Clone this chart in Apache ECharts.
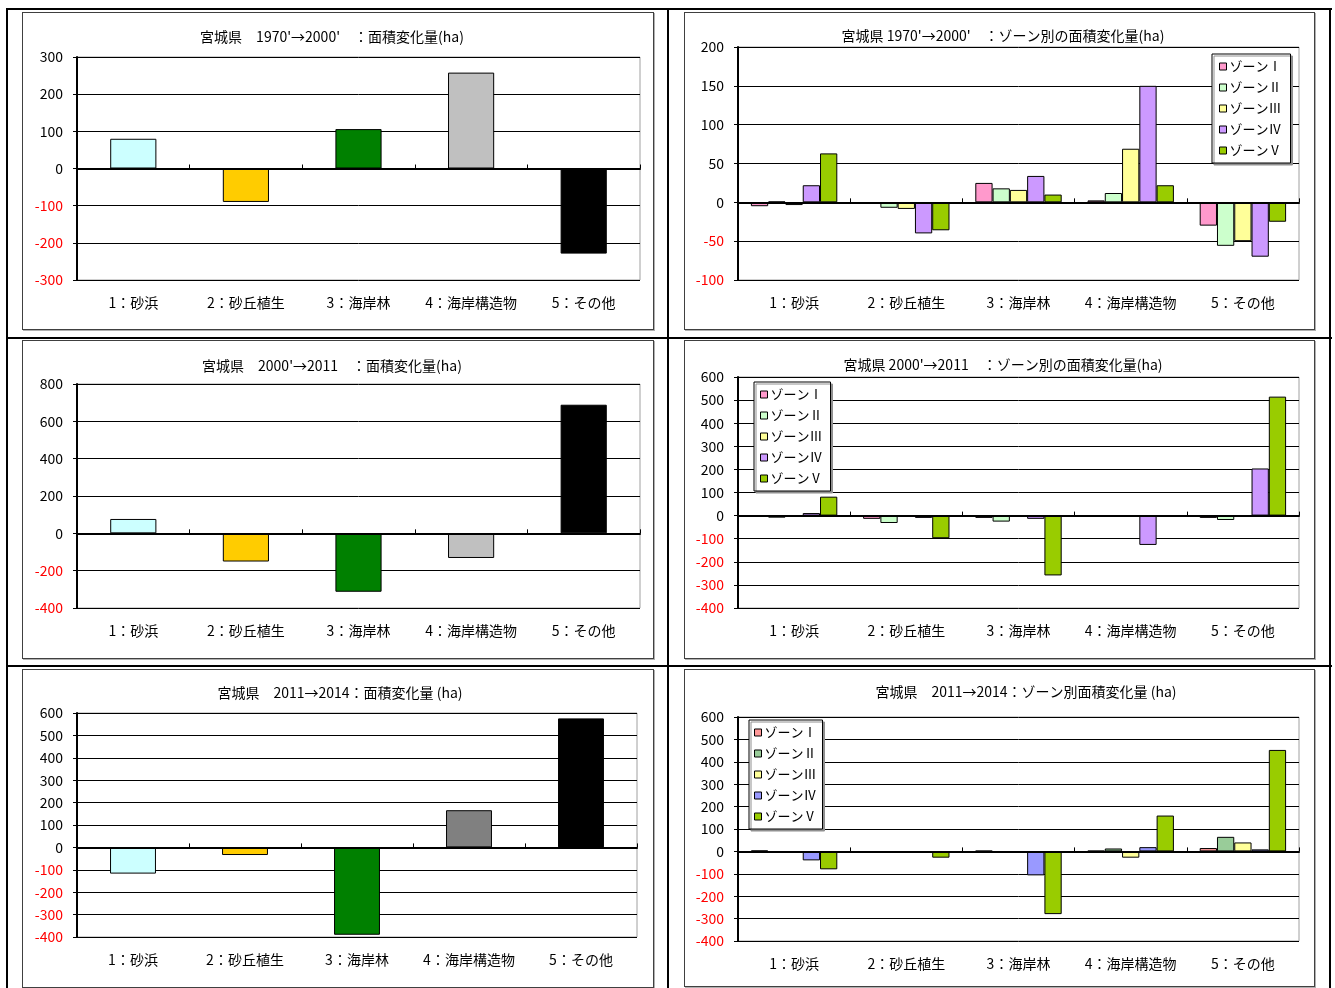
<!DOCTYPE html>
<html><head><meta charset="utf-8">
<script src="https://cdn.jsdelivr.net/npm/echarts@6/dist/echarts.min.js"></script>
<style>
html,body{margin:0;padding:0;background:#fff;}
body{width:1335px;height:988px;overflow:hidden;position:relative;}
.line{position:absolute;background:#000;}
.chart{position:absolute;}
.frame{position:absolute;border:1px solid #404040;box-sizing:border-box;pointer-events:none;box-shadow:1px 1px 0 #b0b0b0;}
</style></head><body>
<script>
// ---------- data ----------
const categories = ['1：砂浜', '2：砂丘植生', '3：海岸林', '4：海岸構造物', '5：その他'];
const zoneNames = ['ゾーンⅠ', 'ゾーンⅡ', 'ゾーンⅢ', 'ゾーンⅣ', 'ゾーンⅤ'];

const total1970to2000 = [80, -90, 106, 258, -229];
const total2000to2011 = [77, -151, -313, -132, 689];
const total2011to2014 = [-117, -34, -390, 166, 576];

// zone arrays: values per category
const z1970to2000_I   = [-5, -2, 25, 2.5, -30];
const z1970to2000_II  = [1, -7, 18, 12, -56];
const z1970to2000_III = [-3.5, -8.5, 16, 69, -50];
const z1970to2000_IV  = [22, -40, 34, 150, -70];
const z1970to2000_V   = [63, -36, 10, 22, -25];

const z2000to2011_I   = [-4, -14, -10, -5, -10];
const z2000to2011_II  = [-9, -32, -26, -4, -19];
const z2000to2011_III = [-4, -3, -4, -4, -4];
const z2000to2011_IV  = [11, -10, -14, -127, 204];
const z2000to2011_V   = [82, -98, -259, -5, 515];

const z2011to2014_I   = [4, -4, 3, 3, 15];
const z2011to2014_II  = [-3, -3, -4, 13, 65];
const z2011to2014_III = [-2, -3, -3, -28, 40];
const z2011to2014_IV  = [-40, -3, -107, 19, 9];
const z2011to2014_V   = [-80, -28, -280, 160, 453];

const titles = [
  "宮城県　1970'→2000'　：面積変化量(ha)",
  "宮城県 1970'→2000'　：ゾーン別の面積変化量(ha)",
  "宮城県　2000'→2011　：面積変化量(ha)",
  "宮城県 2000'→2011　：ゾーン別の面積変化量(ha)",
  "宮城県　2011→2014：面積変化量 (ha)",
  "宮城県　2011→2014：ゾーン別面積変化量 (ha)"
];

// ---------- styles ----------
const FONT = "'Noto Sans CJK JP', 'Noto Sans', sans-serif";
const totalColorsA = ['#CCFFFF', '#FFCC00', '#008000', '#C0C0C0', '#000000'];
const totalColorsB = ['#CCFFFF', '#FFCC00', '#008000', '#808080', '#000000'];
const zoneColorsA = ['#FF99CC', '#CCFFCC', '#FFFF99', '#CC99FF', '#99CC00'];
const zoneColorsB = ['#FF9999', '#99CC99', '#FFFF99', '#9999FF', '#99CC00'];

// ---------- outer table lines ----------
function addLine(x, y, w, h) {
  const d = document.createElement('div');
  d.className = 'line';
  d.style.left = x + 'px'; d.style.top = y + 'px';
  d.style.width = w + 'px'; d.style.height = h + 'px';
  document.body.appendChild(d);
}
addLine(6, 8, 1326, 2);
addLine(6, 337, 1326, 2);
addLine(6, 665, 1326, 2);
addLine(6, 8, 2, 980);
addLine(667, 8, 2, 980);
addLine(1329, 8, 2, 980);

// ---------- panels ----------
const panels = [
  {box:[22,12,632,318], grid:[55,45,563,223], t:[310,25], y:[-300,300,100], kind:'total', data: total1970to2000, colors: totalColorsA},
  {box:[684,12,631,318], grid:[54,35,561,233], t:[319,24], y:[-100,200,50], kind:'zone',
    data:[z1970to2000_I,z1970to2000_II,z1970to2000_III,z1970to2000_IV,z1970to2000_V], colors: zoneColorsA, legend:[528,42,[6,9,6,7]]},
  {box:[22,340,632,319], grid:[55,44,563,224], t:[310,26], y:[-400,800,200], kind:'total', data: total2000to2011, colors: totalColorsA},
  {box:[684,340,631,319], grid:[54,37,561,231], t:[319,25], y:[-400,600,100], kind:'zone',
    data:[z2000to2011_I,z2000to2011_II,z2000to2011_III,z2000to2011_IV,z2000to2011_V], colors: zoneColorsA, legend:[70,42,[6,8,6,6]]},
  {box:[22,669,632,319], grid:[55,44,560,224], t:[318,24], y:[-400,600,100], kind:'total', data: total2011to2014, colors: totalColorsB},
  {box:[684,669,631,318], grid:[54,48,561,224], t:[342,23], y:[-400,600,100], kind:'zone',
    data:[z2011to2014_I,z2011to2014_II,z2011to2014_III,z2011to2014_IV,z2011to2014_V], colors: zoneColorsB, legend:[65,51,[6,6,6,5]]}
];

panels.forEach((p, i) => {
  const el = document.createElement('div');
  el.className = 'chart';
  el.style.left = p.box[0] + 'px'; el.style.top = p.box[1] + 'px';
  el.style.width = p.box[2] + 'px'; el.style.height = p.box[3] + 'px';
  document.body.appendChild(el);
  const fr = document.createElement('div');
  fr.className = 'frame';
  fr.style.left = p.box[0] + 'px'; fr.style.top = p.box[1] + 'px';
  fr.style.width = p.box[2] + 'px'; fr.style.height = p.box[3] + 'px';
  document.body.appendChild(fr);

  const chart = echarts.init(el, null, {renderer: 'canvas'});
  let series;
  if (p.kind === 'total') {
    series = [{
      type: 'bar', name: '面積変化量', data: p.data, barWidth: '41%',
      itemStyle: {color: (q) => p.colors[q.dataIndex], borderColor: '#000', borderWidth: 1},
      emphasis: {disabled: true}
    }];
  } else {
    series = p.data.map((arr, k) => ({
      type: 'bar', name: zoneNames[k], data: arr,
      barGap: '0%', barCategoryGap: '23%',
      itemStyle: {color: p.colors[k], borderColor: '#000', borderWidth: 1},
      emphasis: {disabled: true}
    }));
  }
  const option = {
    animation: false,
    textStyle: {fontFamily: FONT},
    title: {
      text: titles[i], left: p.t[0], top: p.t[1], textAlign: 'center', textVerticalAlign: 'middle', padding: 0,
      textStyle: {fontSize: 14, fontWeight: 'normal', color: '#000', fontFamily: FONT}
    },
    grid: {left: p.grid[0], top: p.grid[1], width: p.grid[2], height: p.grid[3],
      show: true, borderColor: '#a0a0a0', borderWidth: 1, backgroundColor: '#fff', containLabel: false, outerBoundsMode: 'none'},
    xAxis: [
      {type: 'category', data: categories, z: 10,
        axisLine: {show: true, onZero: true, lineStyle: {color: '#000', width: 2}},
        axisTick: {show: true, inside: true, length: 4, lineStyle: {color: '#000', width: 1}},
        axisLabel: {show: false}, splitLine: {show: false}},
      {type: 'category', data: categories, position: 'bottom',
        axisLine: {show: false, onZero: false}, axisTick: {show: false}, splitLine: {show: false},
        axisLabel: {show: true, margin: 16, fontSize: 14, color: '#000', interval: 0, fontFamily: FONT}}
    ],
    yAxis: {
      type: 'value', min: p.y[0], max: p.y[1], interval: p.y[2],
      axisLine: {show: true, lineStyle: {color: '#000', width: 2}},
      axisTick: {show: true, length: 4, lineStyle: {color: '#000'}},
      axisLabel: {fontSize: 14, margin: 14, fontFamily: FONT,
        color: (v) => (Number(v) < 0 ? '#FF0000' : '#000000')},
      splitLine: {show: true, lineStyle: {color: '#000', width: 1}}
    },
    series: series
  };
  if (p.legend) {
    option.legend = {
      data: zoneNames.map((n, k) => ({name: n, itemStyle: {color: p.colors[k], borderColor: '#000', borderWidth: 1}})),
      orient: 'vertical', left: p.legend[0], top: p.legend[1], padding: p.legend[2],
      icon: 'rect', itemWidth: 7, itemHeight: 7, itemGap: 8,
      textStyle: {fontSize: 13, color: '#000', fontFamily: FONT, padding: [0, 0, 0, -2]},
      backgroundColor: '#fff', borderColor: '#000', borderWidth: 1,
      shadowColor: '#909090', shadowOffsetX: 2, shadowOffsetY: 2, shadowBlur: 0,
      selectedMode: false
    };
  }
  chart.setOption(option);
});
</script>
</body></html>
